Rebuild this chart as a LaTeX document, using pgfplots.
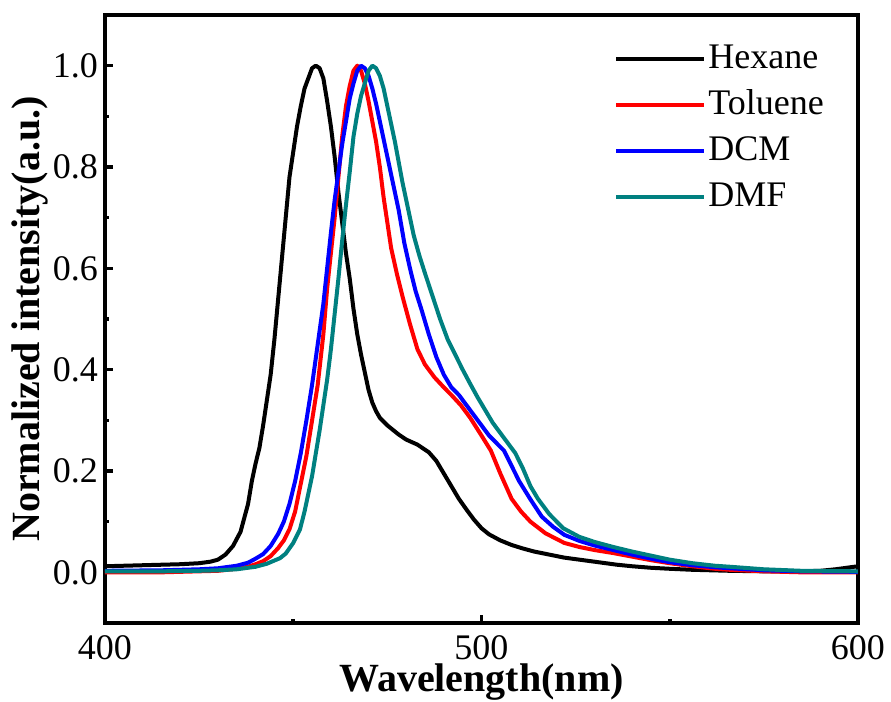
\documentclass[border=0pt]{standalone}
\usepackage{pgfplots}
\pgfplotsset{compat=1.18}
\usepackage{fontspec}
\setmainfont{Liberation Serif}
\definecolor{dmfteal}{HTML}{008080}

\begin{document}
\begin{tikzpicture}
\begin{axis}[
  scale only axis,
  width=376.5pt, height=304pt,
  xmin=400, xmax=600, ymin=-0.1, ymax=1.1,
  xtick={400,500,600}, minor xtick={450,550},
  ytick={0,0.2,...,1.0}, minor ytick={0.1,0.3,0.5,0.7,0.9},
  xtick pos=bottom, ytick pos=left,
  tick align=inside,
  major tick length=4pt, minor tick length=2pt,
  every tick/.style={line width=1.8pt, black},
  axis line style={line width=2.2pt},
  /pgf/number format/assume math mode=true,
  yticklabel style={/pgf/number format/fixed, /pgf/number format/fixed zerofill, /pgf/number format/precision=1},
  xticklabel style={/pgf/number format/set thousands separator={}, yshift=-2.5pt},
  tick label style={font=\fontsize{18pt}{20pt}\selectfont},
  xlabel={\textbf{Wavelength(nm)}},
  ylabel={\textbf{Normalized intensity(a.u.)}},
  label style={font=\fontsize{20pt}{22pt}\selectfont},
  xlabel style={at={(axis description cs:0.5,-0.097)}, anchor=center},
  ylabel style={at={(axis description cs:-0.1,0.5)}, anchor=center, rotate=0},
  legend style={draw=none, fill=none, at={(axis description cs:0.668,0.966)}, anchor=north west,
    font=\fontsize{18pt}{20pt}\selectfont, row sep=4pt,
    nodes={inner sep=1pt, text height=13pt, text depth=4pt}},
  legend cell align=left,
  legend image code/.code={\draw[#1] (0pt,0pt) -- (44pt,0pt);},
  every axis plot/.append style={line width=2pt, line join=round},
]
\addplot[black] coordinates {
(400,0.012) (410,0.014) (420,0.016) (425,0.018) (428,0.021) (430,0.025) (432,0.035) (434,0.052)
(436,0.080) (438,0.135) (439,0.180) (440,0.215) (441,0.245) (442,0.29) (443,0.34) (444,0.39)
(445,0.46) (446,0.54) (447,0.62) (448,0.70) (449,0.78) (450,0.83) (451,0.88) (452,0.92)
(453,0.955) (454,0.975) (455,0.995) (456,1.0) (457,0.995) (458,0.975) (459,0.93) (460,0.88)
(461,0.82) (462,0.75) (463,0.69) (464,0.63) (465,0.58) (466,0.52) (467,0.47) (468,0.43)
(469,0.395) (470,0.36) (471,0.335) (472,0.318) (473,0.305) (475,0.29) (478,0.272) (480,0.262)
(483,0.252) (486,0.237) (488,0.22) (490,0.195) (492,0.17) (494,0.145) (496,0.124) (498,0.104)
(500,0.087) (502,0.075) (505,0.063) (508,0.054) (511,0.047) (514,0.041) (518,0.035) (522,0.029)
(526,0.025) (531,0.02) (536,0.015) (540,0.012) (545,0.009) (550,0.007) (556,0.005) (566,0.003)
(575,0.002) (585,0.002) (590,0.003) (594,0.006) (597,0.009) (600,0.012)
};
\addlegendentry{Hexane}
\addplot[red] coordinates {
(400,0.0) (415,0.0) (425,0.002) (430,0.003) (435,0.007) (438,0.011) (440,0.016) (442,0.022)
(444,0.032) (446,0.048) (447.5,0.063) (449,0.085) (450.5,0.12) (452,0.175) (453.5,0.23) (455,0.30)
(456.5,0.37) (458,0.47) (459,0.56) (460,0.63) (461,0.70) (462,0.78) (463,0.86) (464,0.92)
(465,0.96) (466,0.99) (467,1.0) (468,0.99) (469,0.965) (470,0.93) (471,0.89) (472,0.85)
(473,0.80) (474,0.74) (475,0.69) (476,0.64) (477.5,0.59) (479,0.545) (481,0.49) (483,0.44)
(485,0.41) (487.5,0.385) (490,0.365) (492,0.35) (494.5,0.33) (497,0.305) (500,0.27) (502.5,0.24)
(505,0.195) (508,0.145) (510.5,0.12) (513,0.10) (517,0.077) (522,0.058) (526,0.05) (530,0.044)
(535,0.038) (540,0.031) (545,0.024) (550,0.018) (556,0.012) (562,0.007) (566,0.005) (575,0.002)
(585,0.0) (600,0.0)
};
\addlegendentry{Toluene}
\addplot[blue] coordinates {
(400,0.003) (415,0.004) (425,0.006) (430,0.008) (435,0.013) (438,0.019) (440,0.027) (442,0.036)
(444,0.052) (446,0.076) (447.5,0.10) (449,0.135) (450.5,0.18) (452,0.235) (453.5,0.30) (455,0.37)
(456.5,0.45) (458,0.53) (459,0.60) (460,0.67) (461,0.735) (462,0.79) (463,0.845) (464,0.89)
(465,0.935) (466,0.965) (467,0.99) (468,1.0) (469,0.995) (470,0.98) (471,0.955) (472,0.925)
(473,0.89) (474,0.855) (475,0.82) (476,0.785) (477,0.75) (478,0.715) (479.5,0.65) (481,0.60)
(482.5,0.555) (484,0.52) (486,0.47) (488,0.425) (490,0.39) (492,0.365) (494,0.35) (496,0.33)
(498,0.31) (500,0.29) (502,0.27) (504,0.255) (506,0.24) (508,0.21) (510,0.18) (513,0.144)
(516,0.11) (519,0.09) (522,0.074) (526,0.062) (530,0.053) (535,0.044) (540,0.035) (545,0.027)
(550,0.02) (556,0.014) (562,0.01) (566,0.008) (575,0.004) (585,0.002) (600,0.001)
};
\addlegendentry{DCM}
\addplot[dmfteal] coordinates {
(400,0.002) (415,0.002) (425,0.003) (430,0.004) (435,0.006) (440,0.011) (443,0.017) (446.5,0.028)
(448,0.037) (450,0.058) (451.8,0.085) (453,0.12) (454,0.155) (455,0.19) (456,0.235) (457,0.28)
(458,0.33) (459,0.38) (460,0.44) (461,0.51) (462,0.58) (463,0.655) (464,0.725) (465,0.79)
(466,0.86) (467,0.905) (468,0.94) (469,0.965) (470,0.99) (471,1.0) (472,0.995) (473,0.98)
(474,0.955) (475,0.92) (476,0.885) (477,0.85) (478,0.81) (479,0.77) (480,0.735) (481,0.70)
(482,0.665) (483.5,0.625) (485,0.59) (487,0.545) (489,0.50) (491,0.46) (493,0.43) (495,0.40)
(497,0.372) (499,0.345) (501,0.32) (503,0.295) (505,0.275) (507,0.255) (509,0.235) (511,0.205)
(513,0.17) (515,0.145) (518,0.115) (521.7,0.087) (526,0.07) (530,0.06) (535,0.05) (540,0.041)
(545,0.033) (550,0.025) (556,0.018) (562,0.013) (566,0.011) (575,0.006) (585,0.003) (600,0.002)
};
\addlegendentry{DMF}
\end{axis}
\pgfresetboundingbox
\path (-52.5pt,-39.5pt) rectangle (393pt,311.5pt);
\end{tikzpicture}
\end{document}
